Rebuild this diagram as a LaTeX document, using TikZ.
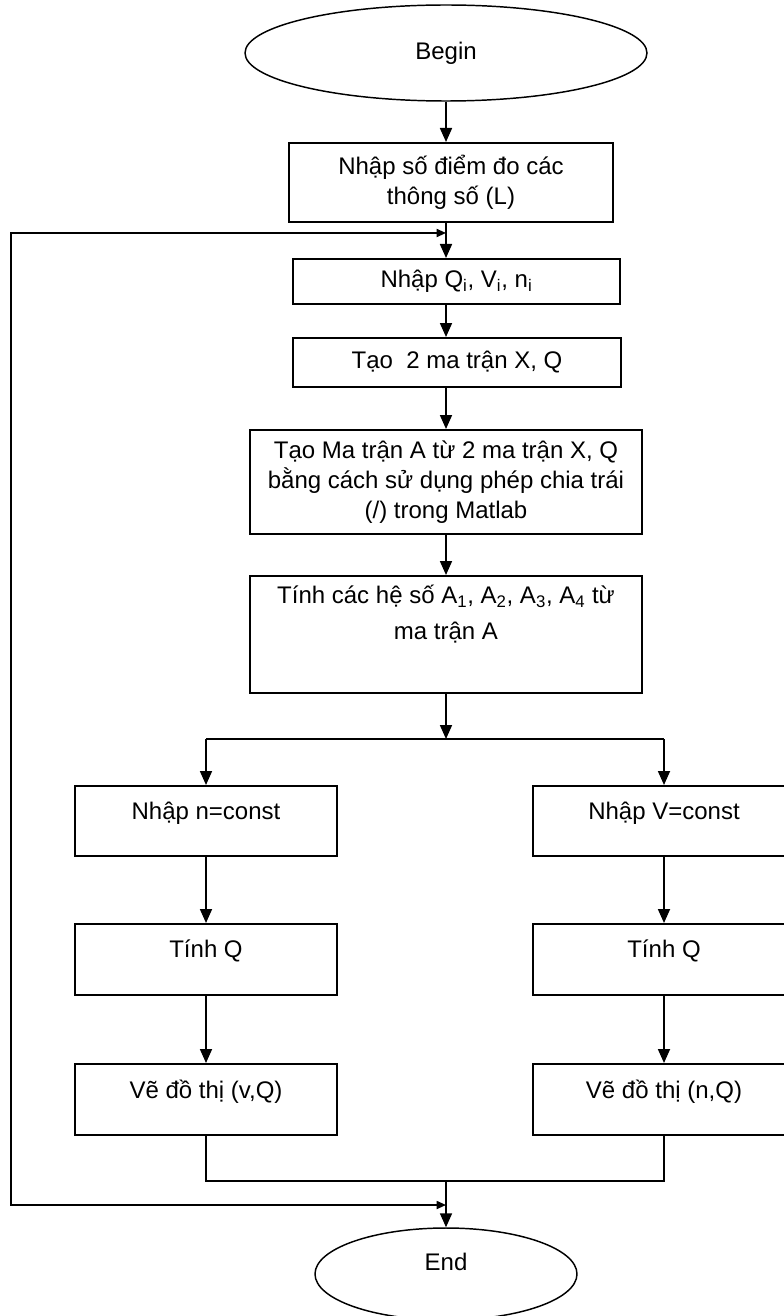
\documentclass[tikz,border=0pt]{standalone}
\usepackage{fontspec}
\setmainfont{Liberation Sans}
\usetikzlibrary{shapes.geometric, arrows.meta}
\newcommand{\mytopbox}[4]{\parbox[c][#2][t]{#1}{\centering\rule{0pt}{#3}#4}}
\begin{document}
\begin{tikzpicture}[x=0.75pt,y=-0.75pt,
  every node/.style={font=\fontsize{18}{22.5}\selectfont},
  box/.style={draw, line width=1.5pt, rectangle, inner sep=0pt, align=center},
  term/.style={draw, line width=1.1pt, ellipse, inner sep=0pt},
  flow/.style={line width=1.3pt},
  arr/.style={flow, -{Triangle[length=10.5pt,width=9pt]}},
  loopline/.style={line width=1.3pt, {Triangle[length=7pt,width=6pt]}-{Triangle[length=7pt,width=6pt]}}
]
\useasboundingbox (0,0) rectangle (784,1316);
\clip (0,0) rectangle (784,1316);
\fill[white] (0,0) rectangle (784,1316);

\node[term, minimum width=301.5pt, minimum height=72pt] (begin) at (446,53) {Begin};
\node[box, minimum width=243pt, minimum height=59.25pt] (b1) at (451,182.5) {Nhập số điểm đo các\\thông số (L)};
\node[box, minimum width=245.25pt, minimum height=33.75pt] (b2) at (456.5,281.5) {Nhập Q\textsubscript{i}, V\textsubscript{i}, n\textsubscript{i}};
\node[box, minimum width=246pt, minimum height=36.75pt] (b3) at (457,362.5) {Tạo\ \ 2 ma trận X, Q};
\node[box, minimum width=294pt, minimum height=78pt] (b4) at (446,482) {Tạo Ma trận A từ 2 ma trận X, Q\\bằng cách sử dụng phép chia trái\\(/) trong Matlab};
\node[box] (b5) at (446,634.5) {\mytopbox{294pt}{87.75pt}{20.75pt}{Tính các hệ số A\textsubscript{1}, A\textsubscript{2}, A\textsubscript{3}, A\textsubscript{4} từ\\[4pt]ma trận A}};

\node[box] (l1) at (206,821) {\mytopbox{196.5pt}{52.5pt}{25pt}{Nhập n=const}};
\node[box] (r1) at (664,821) {\mytopbox{196.5pt}{52.5pt}{25pt}{Nhập V=const}};
\node[box] (l2) at (206,959.5) {\mytopbox{196.5pt}{53.25pt}{25pt}{Tính Q}};
\node[box] (r2) at (664,959.5) {\mytopbox{196.5pt}{53.25pt}{25pt}{Tính Q}};
\node[box] (l3) at (206,1099.5) {\mytopbox{196.5pt}{53.25pt}{26pt}{Vẽ đồ thị (v,Q)}};
\node[box] (r3) at (664,1099.5) {\mytopbox{196.5pt}{53.25pt}{26pt}{Vẽ đồ thị (n,Q)}};

\node[term, minimum width=196.5pt, minimum height=69pt, text depth=18pt] (end) at (446,1274) {End};

\coordinate (cx) at (446,0);
\draw[arr] (begin.south) -- (begin.south |- b1.north);
\draw[arr] (b1.south -| cx) -- (b2.north -| cx);
\draw[arr] (b2.south -| cx) -- (b3.north -| cx);
\draw[arr] (b3.south -| cx) -- (b4.north -| cx);
\draw[arr] (b4.south -| cx) -- (b5.north -| cx);

\coordinate (split) at (446,739);
\draw[arr] (b5.south) -- (split);
\draw[flow] (split -| l1) -- (split -| r1);
\draw[arr] (split -| l1) -- (l1.north);
\draw[arr] (split -| r1) -- (r1.north);
\draw[arr] (l1.south) -- (l2.north);
\draw[arr] (r1.south) -- (r2.north);
\draw[arr] (l2.south) -- (l3.north);
\draw[arr] (r2.south) -- (r3.north);

\coordinate (merge) at (446,1181);
\draw[flow] (l3.south) -- (l3.south |- merge) -- (r3.south |- merge) -- (r3.south);
\draw[arr] (merge) -- (end.north);

\coordinate (lt) at (446,233);
\coordinate (ltl) at (11,233);
\coordinate (lbl) at (11,1205);
\coordinate (lb) at (446,1205);
\draw[loopline] (lt) -- (ltl) -- (lbl) -- (lb);
\end{tikzpicture}
\end{document}
